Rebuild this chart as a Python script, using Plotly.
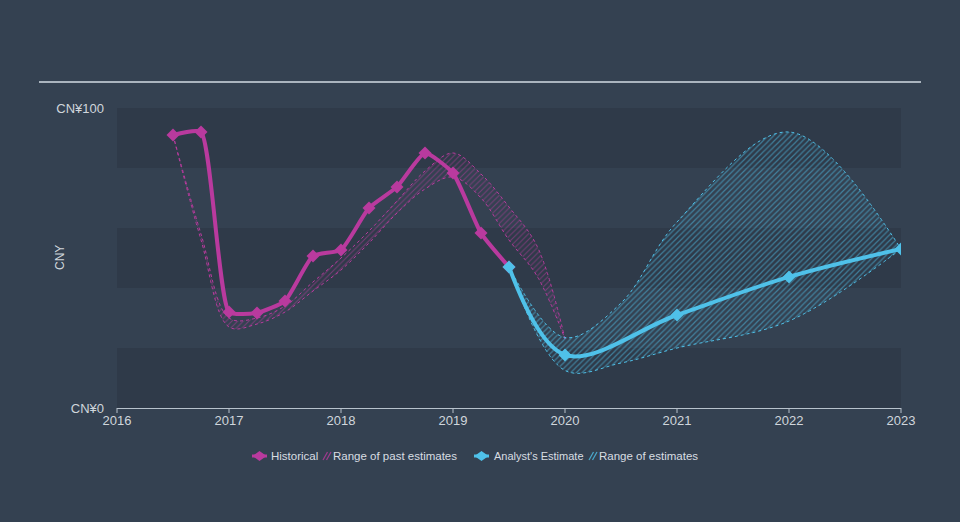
import plotly.graph_objects as go

# ---- data ----
hist_x = [2016.5, 2016.75, 2017.0, 2017.25, 2017.5, 2017.75, 2018.0, 2018.25, 2018.5, 2018.75, 2019.0, 2019.25, 2019.5]
hist_y = [91, 92, 32, 31.7, 35.7, 50.7, 52.7, 66.7, 73.7, 85, 78.3, 58.3, 47]

past_x = [2016.5, 2016.75, 2017.0, 2017.25, 2017.5, 2017.75, 2018.0, 2018.25, 2018.5, 2018.75, 2019.0, 2019.25, 2019.5, 2019.75, 2020.0]
past_low = [91, 56, 27, 28, 32, 39, 46, 55, 65, 73, 77, 70, 56, 44, 23]
past_high = [91, 58, 30, 30, 34, 42, 50, 59, 69, 79, 85, 78, 67, 54, 23]

est_x = [2019.5, 2020.0, 2021.0, 2022.0, 2023.0]
est_y = [47, 17.7, 31, 43.7, 53]

rng_x = [2019.5, 2020.0, 2020.5, 2021.0, 2022.0, 2023.0]
rng_low = [47, 12.5, 15, 20, 29, 53]
rng_high = [47, 23.5, 35, 62, 92, 53]

year_ticks = [2016, 2017, 2018, 2019, 2020, 2021, 2022, 2023]
year_labels = [str(y) for y in year_ticks]

legend_labels = ["Historical", "Range of past estimates", "Analyst's Estimate", "Range of estimates"]

MAG = "#b93a9e"
CYA = "#4fc1e9"
BG = "#344151"
DARK = "#2f3a49"
TXT = "#d0d6dc"
AXC = "#b8c2cc"
FONT = "Liberation Sans, Arial, sans-serif"

# plot area in pixels
L, R, T, B = 117, 901, 108, 408
X0, X1 = 2016, 2023


def px(xp):
    return (xp - L) / (R - L)


def py(yp):
    return (B - yp) / (B - T)


fig = go.Figure()

# past estimates range
fig.add_trace(go.Scatter(x=past_x, y=past_low, mode="lines",
                         line=dict(color=MAG, width=1, dash="dot", shape="spline", smoothing=1),
                         showlegend=False, hoverinfo="skip"))
fig.add_trace(go.Scatter(x=past_x, y=past_high, mode="lines", fill="tonexty",
                         line=dict(color=MAG, width=1, dash="dot", shape="spline", smoothing=1),
                         fillcolor="rgba(0,0,0,0)",
                         fillpattern=dict(shape="/", fgcolor=MAG, bgcolor="rgba(0,0,0,0)", size=4, solidity=0.25),
                         showlegend=False, hoverinfo="skip"))

# analyst range
fig.add_trace(go.Scatter(x=rng_x, y=rng_low, mode="lines",
                         line=dict(color=CYA, width=1, dash="dot", shape="spline", smoothing=1),
                         showlegend=False, hoverinfo="skip"))
fig.add_trace(go.Scatter(x=rng_x, y=rng_high, mode="lines", fill="tonexty",
                         line=dict(color=CYA, width=1, dash="dot", shape="spline", smoothing=1),
                         fillcolor="rgba(0,0,0,0)",
                         fillpattern=dict(shape="/", fgcolor=CYA, bgcolor="rgba(0,0,0,0)", size=4, solidity=0.3),
                         showlegend=False, hoverinfo="skip"))

# historical
fig.add_trace(go.Scatter(x=hist_x, y=hist_y, mode="lines+markers",
                         line=dict(color=MAG, width=4, shape="spline", smoothing=0.5),
                         marker=dict(symbol="diamond", size=10, color=MAG),
                         name="Historical", showlegend=False))
# analyst estimate
fig.add_trace(go.Scatter(x=est_x, y=est_y, mode="lines+markers",
                         line=dict(color=CYA, width=4, shape="spline", smoothing=1),
                         marker=dict(symbol="diamond", size=10, color=CYA),
                         name="Analyst's Estimate", showlegend=False))

# background bands (dark bands at 0-20, 40-60, 80-100)
for i in range(0, 5, 2):
    fig.add_shape(type="rect", xref="x", yref="y", x0=X0, x1=X1, y0=i * 20, y1=(i + 1) * 20,
                  fillcolor=DARK, line=dict(width=0), layer="below")

# x tick marks (below the axis line)
for t in year_ticks:
    xf = (t - X0) / (X1 - X0)
    fig.add_shape(type="line", xref="paper", yref="paper", x0=xf, x1=xf, y0=0, y1=py(413),
                  line=dict(color=AXC, width=1))

# top rule
fig.add_shape(type="line", xref="paper", yref="paper", x0=px(39), x1=px(921), y0=py(82), y1=py(82),
              line=dict(color="#aab4be", width=2))

# custom legend
LY = 456


def line_icon(x0, color):
    fig.add_shape(type="line", xref="paper", yref="paper", x0=px(x0), x1=px(x0 + 15), y0=py(LY), y1=py(LY),
                  line=dict(color=color, width=3))
    cx = x0 + 7.5
    path = (f"M {px(cx - 7)} {py(LY)} L {px(cx)} {py(LY - 5)} L {px(cx + 7)} {py(LY)} "
            f"L {px(cx)} {py(LY + 5)} Z")
    fig.add_shape(type="path", xref="paper", yref="paper", path=path, fillcolor=color,
                  line=dict(color=color, width=0))


def hatch_icon(x0, color):
    for dx in (0, 3.5):
        fig.add_shape(type="line", xref="paper", yref="paper",
                      x0=px(x0 + dx), y0=py(LY + 4), x1=px(x0 + dx + 4.5), y1=py(LY - 4),
                      line=dict(color=color, width=1.3), opacity=0.8)


def label(x0, text, size=11.5):
    fig.add_annotation(xref="paper", yref="paper", x=px(x0), y=py(LY), text=text, showarrow=False,
                       xanchor="left", yanchor="middle", font=dict(size=size, color="#d8dde2"))


line_icon(252, MAG)
label(269, legend_labels[0])
hatch_icon(323, MAG)
label(331, legend_labels[1])
line_icon(474, CYA)
label(492, legend_labels[2], 11)
hatch_icon(589, CYA)
label(597, legend_labels[3])

# y axis title
fig.add_annotation(xref="paper", yref="paper", x=px(60), y=py(258), text="CNY", textangle=-90,
                   showarrow=False, xanchor="center", yanchor="middle", font=dict(size=12, color=TXT))

fig.update_layout(
    width=960, height=522,
    margin=dict(l=L, r=960 - R, t=T, b=522 - B),
    paper_bgcolor=BG,
    plot_bgcolor=BG,
    font=dict(family=FONT, size=12, color=TXT),
    showlegend=False,
    xaxis=dict(range=[X0, X1], tickvals=year_ticks, ticktext=year_labels,
               showgrid=False, zeroline=False, showline=True, linecolor=AXC, linewidth=1,
               ticks="", ticklabelstandoff=0,
               tickfont=dict(size=13, color=TXT)),
    yaxis=dict(range=[0, 100], tickvals=[0, 100], ticktext=["CN¥0", "CN¥100"],
               showgrid=False, zeroline=False, showline=False, ticks="",
               ticklabelstandoff=12,
               tickfont=dict(size=13, color=TXT)),
)

fig.write_html("out.html", config={"displayModeBar": False},
               post_script="document.body.style.margin='0';")
